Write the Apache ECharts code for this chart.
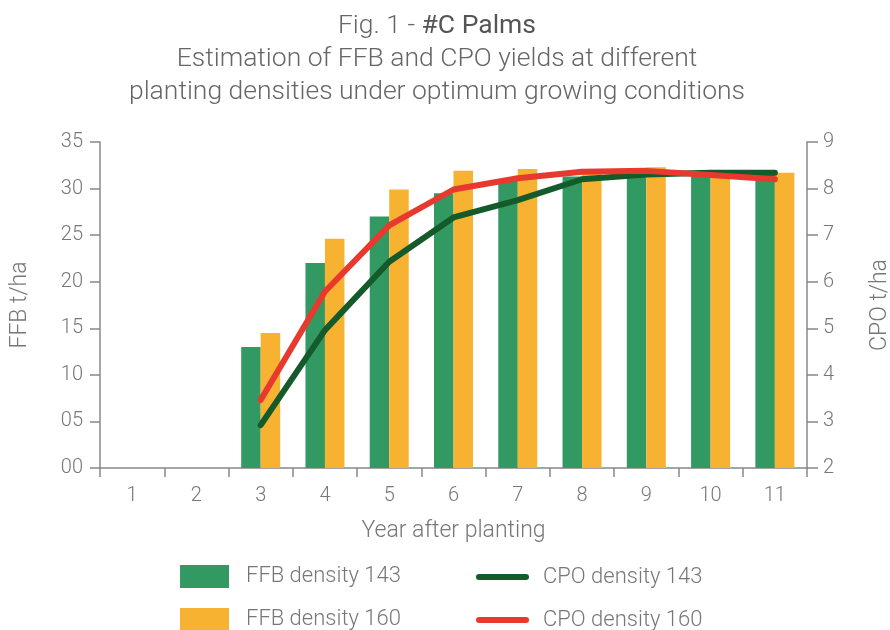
<!DOCTYPE html>
<html><head><meta charset="utf-8">
<script src="https://cdn.jsdelivr.net/npm/echarts@6/dist/echarts.min.js"></script>
<style>html,body{margin:0;padding:0;background:#fff}#c{width:890px;height:630px}</style>
</head><body><div id="c"></div>
<script>
const categories = ['1','2','3','4','5','6','7','8','9','10','11'];
const ffb143 = [null, null, 13.0, 22.0, 27.0, 29.5, 31.0, 31.3, 31.8, 31.8, 31.8];
const ffb160 = [null, null, 14.5, 24.6, 29.9, 31.9, 32.1, 31.8, 32.3, 31.6, 31.7];
const cpo143 = [null, null, 2.92, 4.96, 6.43, 7.38, 7.75, 8.20, 8.30, 8.34, 8.34];
const cpo160 = [null, null, 3.46, 5.79, 7.21, 7.98, 8.22, 8.36, 8.38, 8.29, 8.20];
const leftTicks = ['00','05','10','15','20','25','30','35'];
const names = ['FFB density 143','FFB density 160','CPO density 143','CPO density 160'];

const FONT = 'Roboto';
const W = 300;
const GREY = '#777';
const cGreen = '#339963', cOrange = '#f7b232', cDark = '#145a2a', cRed = '#e8392f';
const lineIcon = 'path://M3,0 L50,0 A3,3 0 0 1 50,6 L3,6 A3,3 0 0 1 3,0 Z';

function leg(name, left, top, w, icon, pad) {
  return {left: left, top: top, padding: 0, itemWidth: w, itemHeight: 23, selectedMode: false,
    data: [{name: name, icon: icon}],
    textStyle: {fontFamily: FONT, fontWeight: W, fontSize: 22, color: GREY, padding: [2,0,0,pad]}};
}

const chart = echarts.init(document.getElementById('c'));
chart.setOption({
  animation: false,
  textStyle: {fontFamily: FONT, fontWeight: W},
  title: {
    left: 432, top: 5, textAlign: 'center',
    text: '{a|Fig. 1 - }{b|#C Palms}\n{a|Estimation of FFB and CPO yields at different}\n{a|planting densities under optimum growing conditions}',
    textStyle: {
      rich: {
        a: {fontFamily: FONT, fontWeight: W, fontSize: 26.5, color: '#666', lineHeight: 33},
        b: {fontFamily: FONT, fontWeight: 'normal', fontSize: 26.5, color: '#555', lineHeight: 33}
      }
    }
  },
  legend: [
    leg(names[0], 180, 565, 49, 'rect', 12),
    leg(names[1], 180, 608, 49, 'rect', 12),
    leg(names[2], 476, 566, 53, lineIcon, 9),
    leg(names[3], 476, 609, 53, lineIcon, 9)
  ],
  grid: {left: 100, right: 83, top: 142, bottom: 162, containLabel: false, outerBoundsMode: 'none'},
  xAxis: {
    type: 'category', data: categories,
    name: 'Year after planting', nameLocation: 'middle', nameGap: 52,
    nameTextStyle: {fontFamily: FONT, fontWeight: W, fontSize: 23, color: GREY},
    axisLine: {lineStyle: {color: '#888', width: 1.5}},
    axisTick: {show: true, length: 9, lineStyle: {color: '#888', width: 1.5}},
    axisLabel: {fontFamily: FONT, fontWeight: W, fontSize: 20, color: GREY, margin: 18}
  },
  yAxis: [
    {type: 'value', min: 0, max: 35, interval: 5,
     name: 'FFB t/ha', nameLocation: 'middle', nameGap: 68, nameRotate: 90,
     nameTextStyle: {fontFamily: FONT, fontWeight: W, fontSize: 23, color: GREY},
     axisLine: {show: true, lineStyle: {color: '#888', width: 1.5}},
     axisTick: {show: true, length: 10, lineStyle: {color: '#888', width: 1.5}},
     axisLabel: {fontFamily: FONT, fontWeight: W, fontSize: 20, color: GREY, margin: 17, formatter: v => leftTicks[v / 5]},
     splitLine: {show: false}},
    {type: 'value', min: 2, max: 9, interval: 1,
     name: 'CPO t/ha', nameLocation: 'middle', nameGap: 62, nameRotate: 90,
     nameTextStyle: {fontFamily: FONT, fontWeight: W, fontSize: 23, color: GREY},
     axisLine: {show: true, lineStyle: {color: '#888', width: 1.5}},
     axisTick: {show: true, length: 11, lineStyle: {color: '#888', width: 1.5}},
     axisLabel: {fontFamily: FONT, fontWeight: W, fontSize: 20, color: GREY, margin: 16},
     splitLine: {show: false}}
  ],
  series: [
    {name: names[0], type: 'bar', data: ffb143, barWidth: 19.5, barGap: '0%', itemStyle: {color: cGreen}},
    {name: names[1], type: 'bar', data: ffb160, barWidth: 19.5, barGap: '0%', itemStyle: {color: cOrange}},
    {name: names[2], type: 'line', yAxisIndex: 1, data: cpo143, showSymbol: false, symbol: 'none',
     lineStyle: {color: cDark, width: 6, cap: 'round', join: 'round'}, itemStyle: {color: cDark}},
    {name: names[3], type: 'line', yAxisIndex: 1, data: cpo160, showSymbol: false, symbol: 'none',
     lineStyle: {color: cRed, width: 6, cap: 'round', join: 'round'}, itemStyle: {color: cRed}}
  ]
});
</script></body></html>
